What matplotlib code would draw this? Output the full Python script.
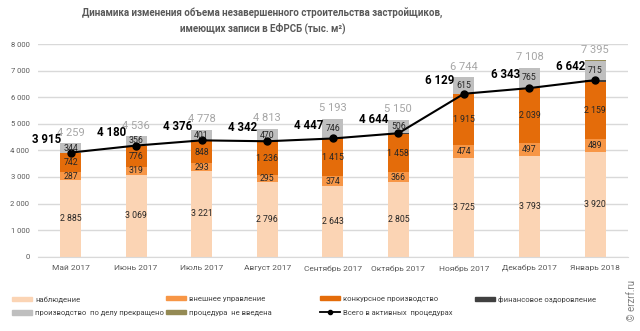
import matplotlib
matplotlib.use("Agg")
import matplotlib.pyplot as plt
import numpy as np
from matplotlib.patches import Patch
from matplotlib.lines import Line2D

months = ["Май 2017", "Июнь 2017", "Июль 2017", "Август 2017", "Сентябрь 2017",
          "Октябрь 2017", "Ноябрь 2017", "Декабрь 2017", "Январь 2018"]
nablyudenie = [2885, 3069, 3221, 2796, 2643, 2805, 3725, 3793, 3920]
vneshnee = [287, 319, 293, 295, 374, 366, 474, 497, 489]
konkursnoe = [742, 776, 848, 1236, 1415, 1458, 1915, 2039, 2159]
finansovoe = [1, 16, 14, 15, 15, 15, 15, 14, 74]
prekrashcheno = [344, 356, 401, 470, 746, 506, 615, 765, 715]
ne_vvedena = [0, 0, 1, 1, 0, 0, 0, 0, 38]
vsego_active = [3915, 4180, 4376, 4342, 4447, 4644, 6129, 6343, 6642]
totals = [4259, 4536, 4778, 4813, 5193, 5150, 6744, 7108, 7395]
yticks = [0, 1000, 2000, 3000, 4000, 5000, 6000, 7000, 8000]

def fmt(v):
    return f"{v:,}".replace(",", " ")

plt.rcParams['font.family'] = ['Roboto', 'DejaVu Sans']
fig = plt.figure(figsize=(6.4, 3.31), dpi=100)
ax = fig.add_axes([0.059, 0.2245, 0.922, 0.6425])

x = np.arange(len(months))
w = 0.32
series = [
    (nablyudenie, "#FBD4B4", "наблюдение", True),
    (vneshnee, "#F79646", "внешнее управление", True),
    (konkursnoe, "#E46C0A", "конкурсное производство", True),
    (finansovoe, "#404040", "финансовое оздоровление", False),
    (prekrashcheno, "#BFBFBF", "производство  по делу прекращено", True),
    (ne_vvedena, "#948A54", "процедура  не введена", False),
]
bottom = np.zeros(len(months))
for vals, col, lab, show in series:
    v = np.array(vals, dtype=float)
    ax.bar(x, v, w, bottom=bottom, color=col, zorder=2, linewidth=0)
    if show:
        for xi, b, vi in zip(x, bottom, v):
            ax.text(xi, b + vi / 2, fmt(int(vi)), ha='center', va='center',
                    fontsize=6.3, color='#262626', zorder=5)
    bottom += v

ax.plot(x, vsego_active, color='black', lw=1.5, marker='o', ms=5, zorder=4)
for xi, v in zip(x, vsego_active):
    ax.annotate(fmt(v), (xi, v), xytext=(-7, 5), textcoords='offset points',
                ha='right', va='bottom', fontsize=8.3, fontweight='bold',
                color='black', zorder=6)
for xi, t in zip(x, totals):
    ax.annotate(fmt(t), (xi, t), xytext=(0, 4), textcoords='offset points',
                ha='center', va='bottom', fontsize=8, color='#A6A6A6', zorder=6)

ax.set_xlim(-0.5, len(months) - 0.5)
ax.set_ylim(0, 8000)
ax.set_yticks(yticks)
ax.set_yticklabels([fmt(t) for t in yticks], fontsize=5.5, color='#595959')
ax.set_xticks(x)
ax.set_xticklabels(months, fontsize=6, color='#595959')
ax.tick_params(length=0, pad=6)
ax.grid(axis='y', color='#D9D9D9', lw=1, zorder=0)
for s in ['top', 'right', 'left']:
    ax.spines[s].set_visible(False)
ax.spines['bottom'].set_color('#D9D9D9')

fig.text(0.41, 0.975, "Динамика изменения объема незавершенного строительства застройщиков,\nимеющих записи в ЕФРСБ (тыс. м²)",
         ha='center', va='top', fontsize=7.0, fontweight='bold', color='#595959',
         linespacing=1.4)

handles = {lab: Patch(color=col) for vals, col, lab, show in series}
line_h = Line2D([0], [0], color='black', lw=1.3, marker='o', ms=3)
columns = [
    (12, [(handles["наблюдение"], "наблюдение"),
          (handles["производство  по делу прекращено"], "производство  по делу прекращено")]),
    (166, [(handles["внешнее управление"], "внешнее управление"),
           (handles["процедура  не введена"], "процедура  не введена")]),
    (320, [(handles["конкурсное производство"], "конкурсное производство"),
           (line_h, "Всего в активных  процедурах")]),
    (475, [(handles["финансовое оздоровление"], "финансовое оздоровление")]),
]
for px, items in columns:
    leg = fig.legend([h for h, l in items], [l for h, l in items],
                     loc='upper left', bbox_to_anchor=(px / 640, 1 - 296 / 331),
                     frameon=False, fontsize=5.5, borderpad=0, borderaxespad=0,
                     handlelength=2.6, handleheight=0.5, handletextpad=0.4,
                     labelspacing=1.0)
    for t in leg.get_texts():
        t.set_color('#404040')

fig.text(0.988, 0.03, "© erzrf.ru", rotation=90, ha='center', va='bottom',
         fontsize=7, color='#7F7F7F')

fig.savefig("out.png", dpi=100)
